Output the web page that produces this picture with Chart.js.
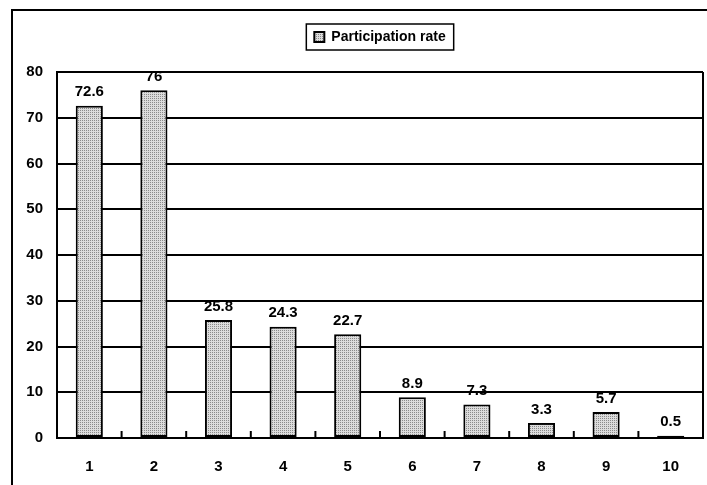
<!DOCTYPE html>
<html>
<head>
<meta charset="utf-8">
<script src="https://cdn.jsdelivr.net/npm/chart.js@4"></script>
<style>
html,body{margin:0;padding:0;background:#fff;}
#wrap{width:707px;height:485px;position:relative;}
</style>
</head>
<body>
<div id="wrap"><canvas id="c" width="707" height="485"></canvas></div>
<script>
const categories = ['1','2','3','4','5','6','7','8','9','10'];
const participationRate = [72.6, 76, 25.8, 24.3, 22.7, 8.9, 7.3, 3.3, 5.7, 0.5];
const seriesName = 'Participation rate';
const yTicks = [0,10,20,30,40,50,60,70,80];

const FONT = "'Liberation Sans', Arial, sans-serif";

function makePattern(){
  const c = document.createElement('canvas');
  c.width = 4; c.height = 4;
  const g = c.getContext('2d');
  g.fillStyle = '#dcdcdc'; g.fillRect(0,0,4,4);
  g.fillStyle = '#8a8a8a';
  g.fillRect(0,0,1,1); g.fillRect(2,2,1,1); g.fillRect(2,0,1,1); g.fillRect(0,2,1,1);
  return document.getElementById('c').getContext('2d').createPattern(c,'repeat');
}
const pat = makePattern();

const framePlugin = {
  id: 'frame',
  afterDraw(chart){
    const ctx = chart.ctx;
    const a = chart.chartArea;
    ctx.save();
    ctx.strokeStyle = '#000';
    ctx.lineWidth = 2;
    ctx.beginPath();
    ctx.moveTo(12, 485); ctx.lineTo(12, 10); ctx.lineTo(707, 10);
    ctx.stroke();
    ctx.beginPath();
    ctx.moveTo(a.right, a.top); ctx.lineTo(a.right, a.bottom);
    ctx.stroke();
    const xs = chart.scales.x;
    for (let i = 1; i < categories.length; i++){
      const x = (xs.getPixelForValue(i-1) + xs.getPixelForValue(i)) / 2;
      ctx.beginPath();
      ctx.moveTo(x, a.bottom); ctx.lineTo(x, a.bottom - 7);
      ctx.stroke();
    }
    const meta = chart.getDatasetMeta(0);
    ctx.fillStyle = '#000';
    ctx.font = 'bold 15px ' + FONT;
    ctx.textAlign = 'center';
    ctx.textBaseline = 'bottom';
    meta.data.forEach((bar, i) => {
      ctx.fillText(String(participationRate[i]), bar.x, bar.y - 6);
    });
    const lg = chart.legend;
    if (lg && lg.legendHitBoxes && lg.legendHitBoxes.length){
      const hb = lg.legendHitBoxes[0];
      ctx.lineWidth = 1.5;
      ctx.strokeRect(hb.left - 8, hb.top - 6, hb.width + 16, hb.height + 12);
    }
    ctx.restore();
  }
};

new Chart(document.getElementById('c'), {
  type: 'bar',
  data: {
    labels: categories,
    datasets: [{
      label: seriesName,
      data: participationRate,
      backgroundColor: pat,
      borderColor: '#000',
      borderWidth: 2,
      borderSkipped: false,
      barPercentage: 0.42,
      categoryPercentage: 1.0
    }]
  },
  options: {
    responsive: false,
    animation: false,
    devicePixelRatio: 1,
    layout: { padding: { top: 3, right: 4, left: 0, bottom: 0 } },
    plugins: {
      legend: {
        display: true,
        position: 'top',
        fullSize: false,
        labels: {
          font: { family: FONT, size: 14, weight: 'bold' },
          color: '#000',
          boxWidth: 10,
          boxHeight: 10,
          padding: 27
        }
      },
      title: {
        display: true,
        text: ' ',
        weight: 0,
        fullSize: false,
        font: { size: 10, lineHeight: 1 },
        padding: { top: 4, bottom: 4 }
      },
      tooltip: { enabled: false }
    },
    scales: {
      x: {
        grid: { display: false, drawTicks: false },
        border: { display: true, color: '#000', width: 2 },
        ticks: {
          color: '#000',
          font: { family: FONT, size: 15, weight: 'bold' },
          padding: 20
        },
        afterFit(s){ s.height = 47; }
      },
      y: {
        min: 0, max: 80,
        afterBuildTicks(s){ s.ticks = yTicks.map(v => ({ value: v })); },
        grid: { color: '#000', lineWidth: 2, drawTicks: false },
        border: { display: true, color: '#000', width: 2 },
        ticks: {
          color: '#000',
          font: { family: FONT, size: 15, weight: 'bold' },
          padding: 14
        },
        afterFit(s){ s.width = 57; }
      }
    }
  },
  plugins: [framePlugin]
});
</script>
</body>
</html>
